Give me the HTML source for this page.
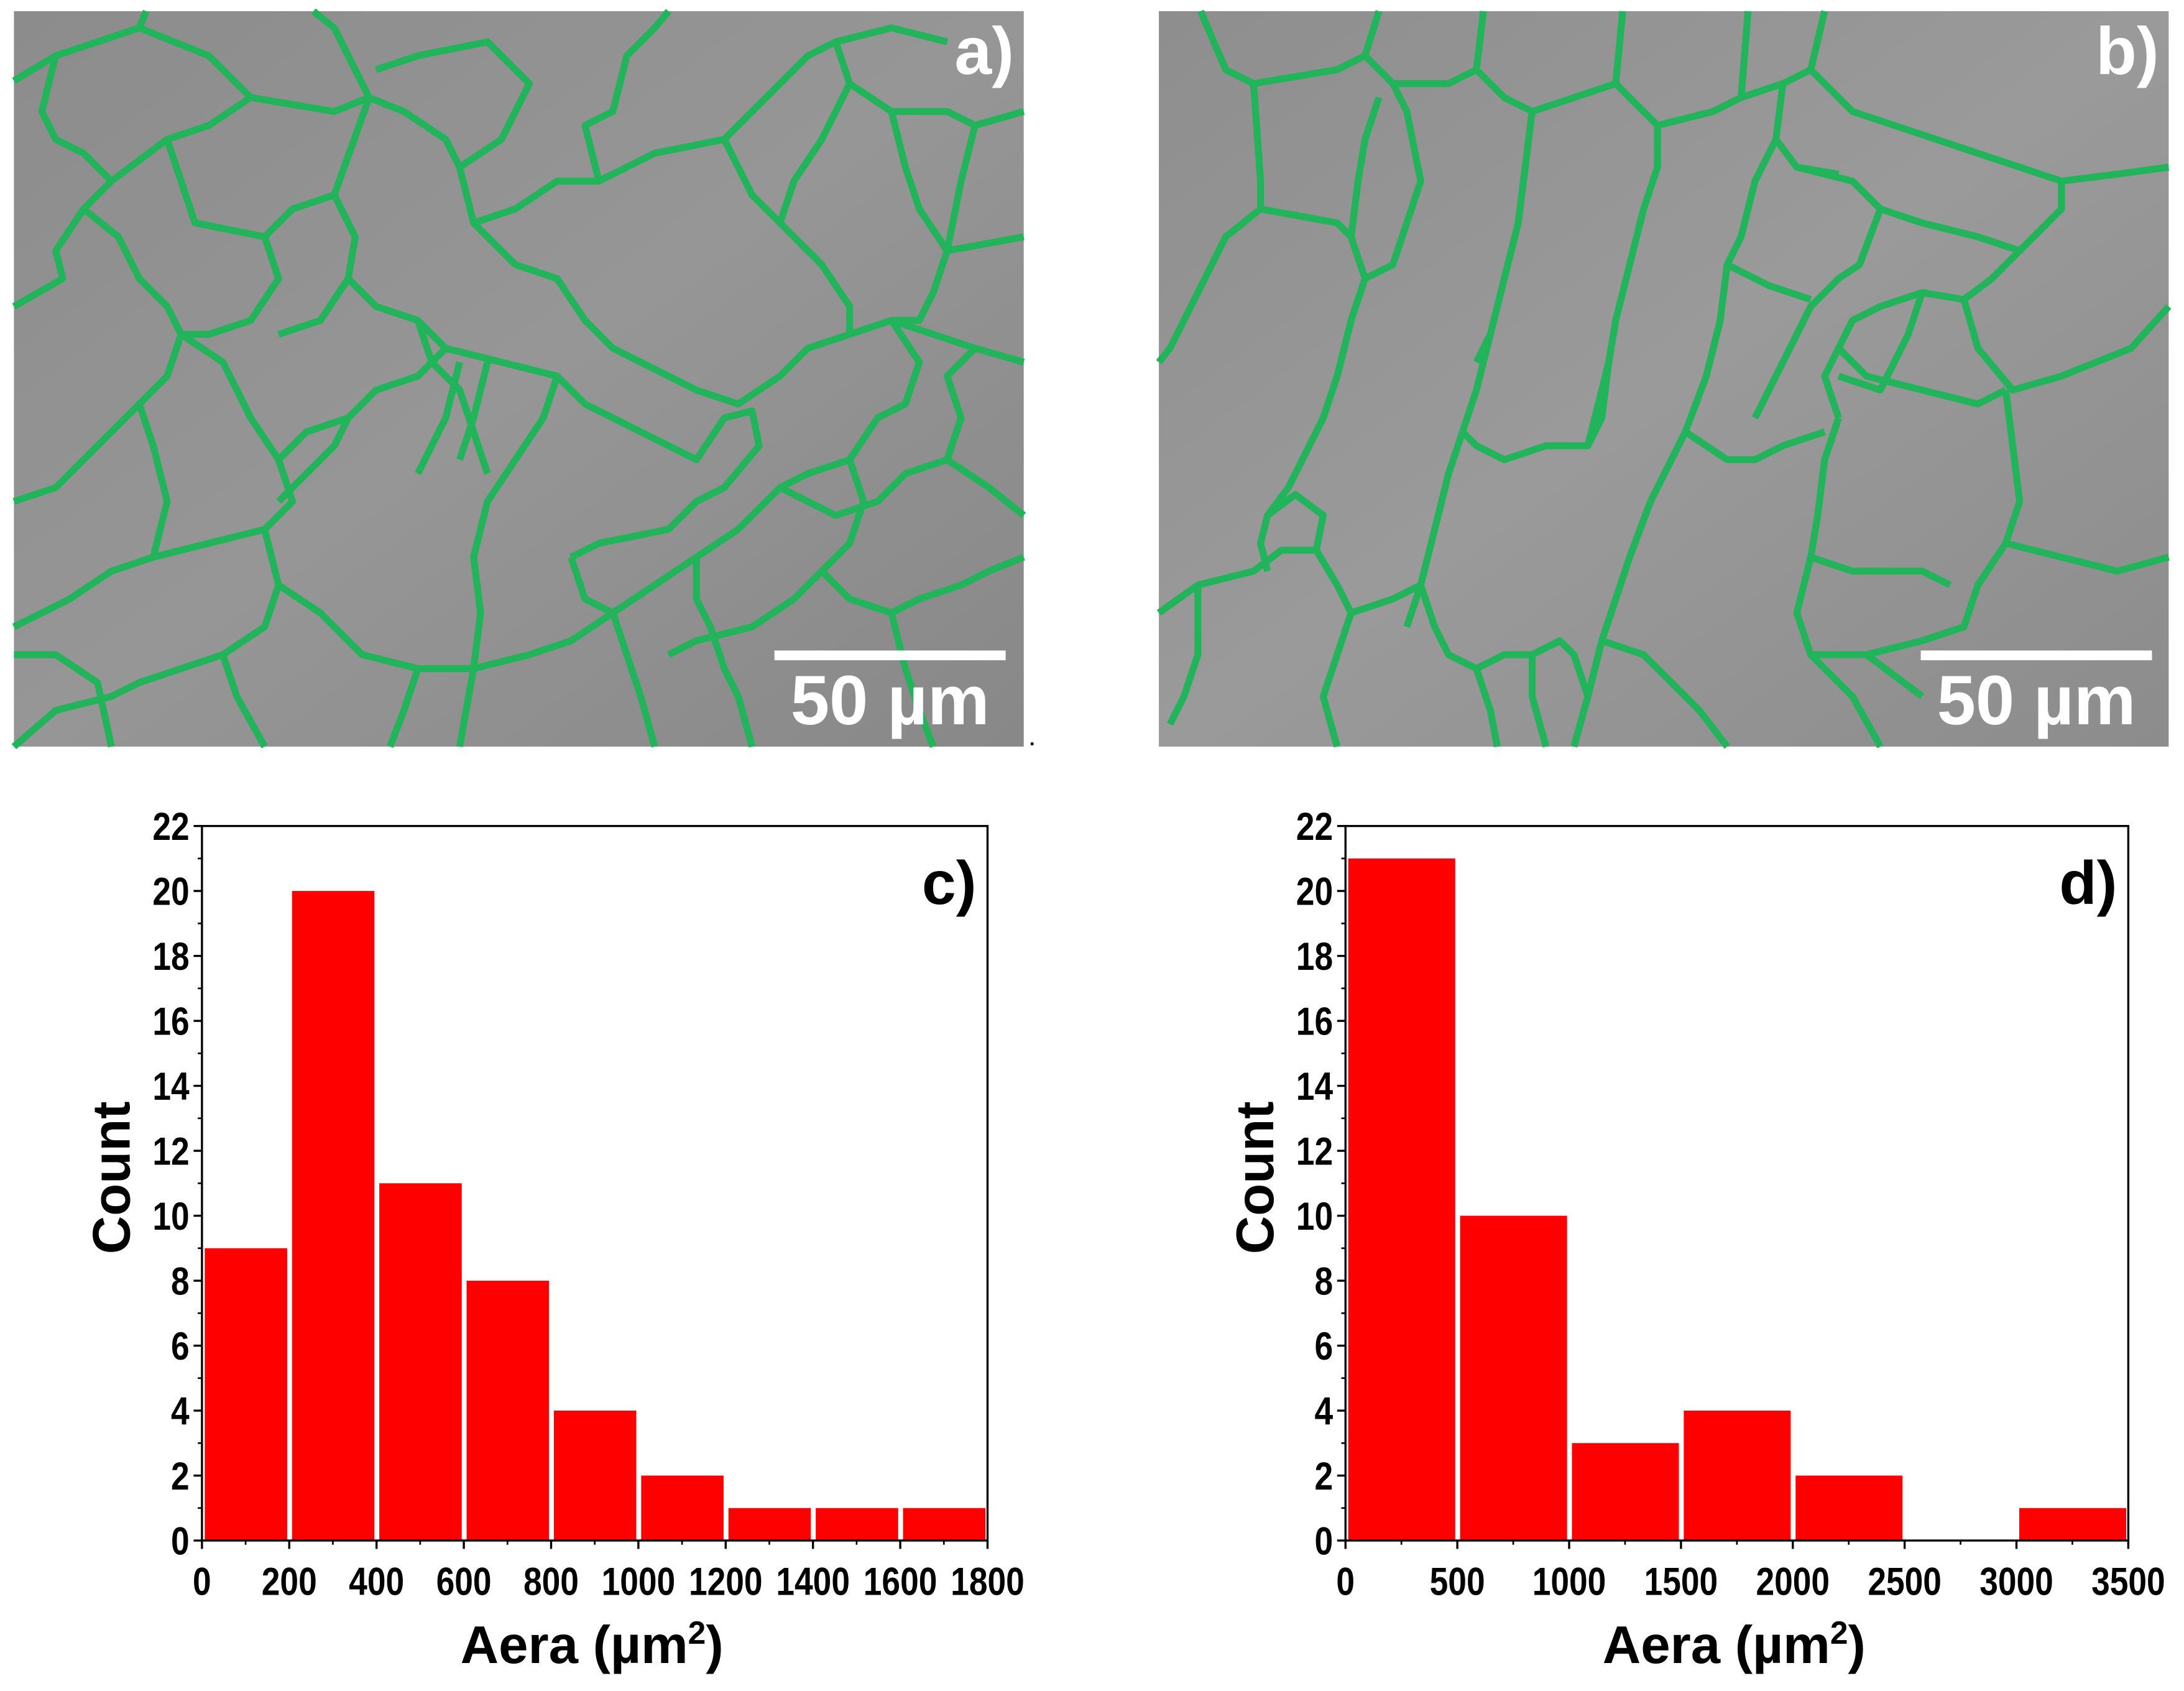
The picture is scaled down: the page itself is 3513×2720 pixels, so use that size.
<!DOCTYPE html>
<html><head><meta charset="utf-8"><style>
html,body{margin:0;padding:0;background:#fff;}
svg{display:block;}
text{font-family:"Liberation Sans Narrow","Liberation Sans",sans-serif;font-weight:bold;}
</style></head><body>
<svg id="fig" width="3513" height="2720" viewBox="0 0 1568 1214" xmlns="http://www.w3.org/2000/svg">
<defs>
<linearGradient id="gA" x1="0" y1="0" x2="1" y2="1"><stop offset="0" stop-color="#8c8c8c"/><stop offset="0.5" stop-color="#969696"/><stop offset="1" stop-color="#888"/></linearGradient>
<linearGradient id="gB" x1="0" y1="0" x2="1" y2="1"><stop offset="0" stop-color="#8e8e8e"/><stop offset="0.5" stop-color="#9a9a9a"/><stop offset="1" stop-color="#8c8c8c"/></linearGradient>
</defs>
<g>
<rect x="10" y="8" width="725" height="528" fill="url(#gA)"/>
<g fill="none" stroke="#22b45a" stroke-width="5" stroke-linejoin="round">
<path d="M10,58 L40,40 L100,20 L105,8"/>
<path d="M100,20 L150,40 L180,70 L240,80 L265,70 L240,20 L225,8"/>
<path d="M40,40 L30,80 L40,100 L60,110 L80,130 L60,150 L40,180 L45,200 L10,220"/>
<path d="M80,130 L120,100 L150,90 L180,70"/>
<path d="M60,150 L85,170 L100,200 L120,220 L130,240"/>
<path d="M120,100 L130,130 L140,160 L190,170 L210,150 L240,140 L265,70"/>
<path d="M190,170 L200,200 L180,230 L150,240 L130,240 L120,270 L100,290 L80,310 L60,330 L40,350 L10,360"/>
<path d="M240,140 L255,170 L250,200 L230,230 L200,240"/>
<path d="M265,70 L290,80 L320,100 L330,120 L340,160 L370,150 L400,130 L430,130 L420,90 L440,80 L450,40 L470,20 L480,8"/>
<path d="M330,120 L360,100 L380,60 L350,30 L300,40 L270,50"/>
<path d="M340,160 L370,190 L400,200 L420,230 L440,250 L500,280 L530,290 L560,270 L580,250 L610,240 L640,230 L700,250 L735,260"/>
<path d="M250,200 L270,220 L300,230 L320,250 L360,260 L400,270 L420,290 L440,300 L480,320 L500,330 L520,300 L540,295 L545,320 L520,350 L500,360 L480,380 L430,390 L410,400"/>
<path d="M430,130 L470,110 L520,100 L560,60 L580,40 L600,30 L640,20 L680,30"/>
<path d="M600,30 L610,60 L640,80 L680,80 L700,90 L735,80"/>
<path d="M610,60 L590,100 L570,130 L560,160 L590,190 L610,220 L610,240"/>
<path d="M520,100 L540,140 L560,160"/>
<path d="M640,80 L650,120 L660,150 L680,180 L670,210 L660,230 L640,230"/>
<path d="M700,90 L690,130 L680,180 L735,170"/>
<path d="M320,250 L300,270 L270,280 L250,300 L240,320 L220,340 L200,360"/>
<path d="M300,230 L310,260 L330,280 L340,310 L350,340"/>
<path d="M330,260 L320,300 L310,320 L300,340"/>
<path d="M350,260 L340,300 L330,330"/>
<path d="M400,270 L390,300 L370,330 L350,360 L340,400 L345,440 L340,480 L330,536"/>
<path d="M250,300 L220,310 L200,330 L210,360 L190,380 L150,390 L110,400 L80,410 L50,430 L10,450"/>
<path d="M130,240 L160,260 L180,300 L200,330"/>
<path d="M100,290 L110,320 L120,360 L110,400"/>
<path d="M190,380 L200,420 L190,450 L160,470 L130,480 L100,490 L80,500 L40,510 L10,536"/>
<path d="M200,420 L230,440 L260,470 L300,480 L340,480 L380,470 L410,460 L440,440 L470,420 L500,400 L530,380 L560,350 L580,340 L610,330 L630,300 L650,290 L660,260 L640,230"/>
<path d="M410,400 L420,430 L440,440"/>
<path d="M560,350 L600,370 L630,360 L650,340 L680,330 L710,350 L735,370"/>
<path d="M680,330 L690,300 L680,270 L700,250"/>
<path d="M610,330 L620,360 L610,390 L590,410 L570,430 L540,450 L500,460 L480,470"/>
<path d="M590,410 L610,430 L640,440 L660,430 L690,420 L710,410 L735,400"/>
<path d="M500,400 L500,430 L510,450 L520,480 L530,500 L540,536"/>
<path d="M160,470 L170,500 L190,536"/>
<path d="M440,440 L450,470 L460,500 L470,536"/>
<path d="M640,440 L650,480 L660,510 L670,536"/>
<path d="M10,470 L40,470 L70,490 L80,536"/>
<path d="M300,480 L290,510 L280,536"/>
</g>
<rect x="556" y="467" width="166" height="7" fill="#fff"/>
<text x="639" y="520" font-size="50" fill="#fff" text-anchor="middle" font-family="Liberation Sans">50 µm</text>
<text x="728" y="53" font-size="48" fill="#fff" text-anchor="end">a)</text>
<rect x="740" y="533" width="2" height="2" fill="#000"/>
</g>
<g>
<rect x="832" y="8" width="725" height="528" fill="url(#gB)"/>
<g fill="none" stroke="#22b45a" stroke-width="5" stroke-linejoin="round">
<path d="M862,8 L880,50 L900,60 L960,50 L980,40 L990,8"/>
<path d="M980,40 L1000,60 L1040,60 L1060,50 L1065,8"/>
<path d="M1060,50 L1080,70 L1100,80 L1130,70 L1160,60 L1165,8"/>
<path d="M1160,60 L1180,80 L1190,90 L1230,80 L1250,70 L1255,8"/>
<path d="M1250,70 L1280,60 L1300,50 L1310,8"/>
<path d="M1300,50 L1330,80 L1360,90 L1420,110 L1480,130 L1520,125 L1557,120"/>
<path d="M900,60 L905,130 L905,150 L880,170 L860,210 L840,250 L832,260"/>
<path d="M905,150 L960,160 L970,170 L980,200 L1000,190 L1010,160 L1020,130 L1010,80 L1000,60"/>
<path d="M970,170 L975,130 L980,100 L990,70"/>
<path d="M980,200 L970,230 L960,270 L950,300 L940,320 L925,350 L910,370"/>
<path d="M1100,80 L1095,120 L1090,160 L1080,200 L1070,240 L1060,280 L1050,310 L1040,340 L1030,380 L1020,420 L1010,450"/>
<path d="M1190,90 L1190,120 L1180,150 L1170,190 L1160,230 L1155,260 L1150,300 L1140,320 L1110,320 L1080,330 L1060,320 L1050,310"/>
<path d="M1155,260 L1140,320"/>
<path d="M1280,60 L1275,100 L1290,120 L1330,130 L1350,150 L1380,160 L1420,170 L1450,180 L1480,150 L1480,130"/>
<path d="M1275,100 L1260,130 L1250,170 L1240,190 L1235,230 L1225,270 L1210,310 L1195,340 L1185,360"/>
<path d="M1290,120 L1320,125"/>
<path d="M1350,150 L1335,190 L1320,200 L1300,220 L1285,250 L1270,280 L1260,300"/>
<path d="M1240,190 L1270,205 L1300,215"/>
<path d="M1450,180 L1430,200 L1410,215 L1380,210 L1350,220 L1330,230 L1320,250 L1310,270 L1320,300"/>
<path d="M1410,215 L1420,250 L1445,280 L1480,270 L1530,250 L1557,220"/>
<path d="M1380,210 L1370,240 L1360,260 L1350,280 L1320,270"/>
<path d="M1320,250 L1340,270 L1380,280 L1420,290 L1440,280"/>
<path d="M1440,280 L1445,320 L1450,360 L1440,390 L1480,400 L1520,410 L1557,400"/>
<path d="M1320,300 L1310,330 L1305,370 L1300,400 L1290,440 L1300,470 L1330,500 L1350,536"/>
<path d="M1210,310 L1240,330 L1260,330 L1280,320 L1310,310"/>
<path d="M1185,360 L1170,400 L1160,430 L1150,460 L1140,500 L1130,536"/>
<path d="M1440,390 L1420,420 L1410,450 L1380,460 L1340,470 L1300,470"/>
<path d="M1300,400 L1330,410 L1380,410 L1400,420"/>
<path d="M1070,240 L1060,260"/>
<path d="M832,440 L860,420 L900,410 L920,395 L945,395 L950,370 L930,355 L910,370 L905,390 L910,410"/>
<path d="M945,395 L960,420 L970,440 L1000,430 L1020,420"/>
<path d="M1020,420 L1030,450 L1040,470 L1060,480 L1080,470 L1100,470 L1120,460 L1130,470 L1140,500"/>
<path d="M1100,470 L1100,500 L1110,536"/>
<path d="M1060,480 L1070,510 L1075,536"/>
<path d="M970,440 L960,470 L950,500 L960,536"/>
<path d="M860,420 L860,470 L850,500 L840,520"/>
<path d="M1150,460 L1180,470 L1200,490 L1220,510 L1240,536"/>
<path d="M1340,470 L1380,500"/>
</g>
<rect x="1379" y="467" width="166" height="7" fill="#fff"/>
<text x="1462" y="520" font-size="50" fill="#fff" text-anchor="middle" font-family="Liberation Sans">50 µm</text>
<text x="1550" y="53" font-size="48" fill="#fff" text-anchor="end">b)</text>
</g>
<g id="chartC"></g>
<g id="chartD"></g>
</svg>
<script>
const countsC = [9, 20, 11, 8, 4, 2, 1, 1, 1];
const binWidthC = 200;
const xTicksC = ["0","200","400","600","800","1000","1200","1400","1600","1800"];
const countsD = [21, 10, 3, 4, 2, 0, 1];
const binWidthD = 500;
const xTicksD = ["0","500","1000","1500","2000","2500","3000","3500"];
const yTicks = ["0","2","4","6","8","10","12","14","16","18","20","22"];

const NS = "http://www.w3.org/2000/svg";
function mk(parent, tag, attrs) {
  const e = document.createElementNS(NS, tag);
  for (const k in attrs) e.setAttribute(k, attrs[k]);
  parent.appendChild(e);
  return e;
}
function drawChart(gid, counts, binW, xTicks, xMax, L, R, label) {
  const g = document.getElementById(gid);
  const T = 593, B = 1106, yMax = 22;
  const xs = v => L + (v / xMax) * (R - L);
  const ys = v => B - (v / yMax) * (B - T);
  counts.forEach((c, i) => {
    if (c <= 0) return;
    const x0 = xs(i * binW) + 2, x1 = xs((i + 1) * binW) - 1.5;
    const r = mk(g, "rect", {x: x0, y: ys(c), width: x1 - x0, height: B - ys(c), fill: "#ff0000"});
    
    
  });
  const frame = mk(g, "rect", {x: L, y: T, width: R - L, height: B - T, fill: "none", stroke: "#000", "stroke-width": 1.5});
  
  
  yTicks.forEach((t, i) => {
    const v = +t, y = ys(v);
    mk(g, "line", {x1: L - 6, y1: y, x2: L, y2: y, stroke: "#000", "stroke-width": 1.5});
    if (i < yTicks.length - 1) mk(g, "line", {x1: L - 3, y1: ys(v + 1), x2: L, y2: ys(v + 1), stroke: "#000", "stroke-width": 1.2});
    const tx = mk(g, "text", {x: 0, y: 0, "font-size": 28, "text-anchor": "end", transform: `translate(${L - 9},${y + 10}) scale(0.85,1)`});
    tx.textContent = t;
    
    
  });
  xTicks.forEach((t, i) => {
    const v = +t, x = xs(v);
    mk(g, "line", {x1: x, y1: B, x2: x, y2: B + 6, stroke: "#000", "stroke-width": 1.5});
    if (i < xTicks.length - 1) { const xm = xs(v + binW / 2); mk(g, "line", {x1: xm, y1: B, x2: xm, y2: B + 3, stroke: "#000", "stroke-width": 1.2}); }
    const tx = mk(g, "text", {x: 0, y: 0, "font-size": 28, "text-anchor": "middle", transform: `translate(${x},${B + 39}) scale(0.85,1)`});
    tx.textContent = t;
    
    
  });
  const yt = mk(g, "text", {x: 0, y: 0, "font-size": 38, "text-anchor": "middle", "font-family": "Liberation Sans", transform: `translate(${L - 52},${(T + B) / 2 - 4}) rotate(-90)`});
  yt.textContent = "Count";
  
  
  const xt = mk(g, "text", {x: (L + R) / 2 - 2, y: B + 88, "font-size": 38, "text-anchor": "middle", "font-family": "Liberation Sans"});
  xt.innerHTML = 'Aera (µm<tspan dy="-14" font-size="23">2</tspan><tspan dy="14">)</tspan>';
  
  
  const pl = mk(g, "text", {x: R - 8, y: T + 56, "font-size": 44, "text-anchor": "end", "font-family": "Liberation Sans"});
  pl.textContent = label;
  
  
}
drawChart("chartC", countsC, binWidthC, xTicksC, 1800, 145, 709, "c)");
drawChart("chartD", countsD, binWidthD, xTicksD, 3500, 966, 1528, "d)");
</script>
</body></html>
